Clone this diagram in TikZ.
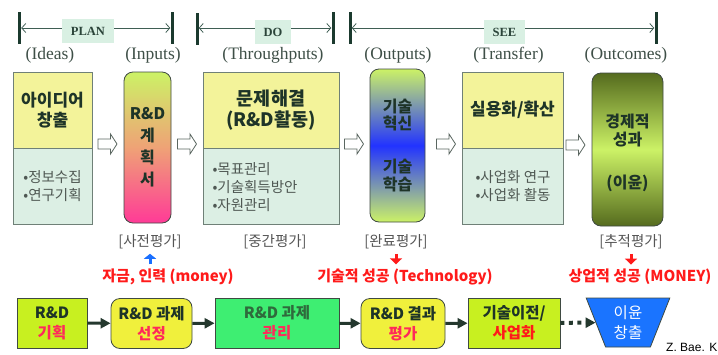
\documentclass[tikz,border=0pt]{standalone}
\usepackage{fontspec}
\setmainfont{Noto Sans CJK KR}
\newfontfamily\serifface{Liberation Serif}
\newfontfamily\latinsans{Liberation Sans}
\usetikzlibrary{arrows.meta,shapes.geometric}

\definecolor{bardark}{HTML}{1B3A2E}
\definecolor{spanline}{HTML}{3F5E54}
\definecolor{phasefill}{HTML}{D9F0E3}
\definecolor{phasetext}{HTML}{2B4439}
\definecolor{stagetext}{HTML}{3E4F47}
\definecolor{paleyellow}{HTML}{F3F39A}
\definecolor{palegreen}{HTML}{DCEFE4}
\definecolor{boxedge}{HTML}{6F8077}
\definecolor{titletext}{HTML}{1E3428}
\definecolor{bullettext}{HTML}{4F5853}
\definecolor{hollowedge}{HTML}{5A6660}
\definecolor{lime}{HTML}{CCF266}
\definecolor{salmon}{HTML}{EFA276}
\definecolor{hotpink}{HTML}{FF3A97}
\definecolor{vividblue}{HTML}{2233FF}
\definecolor{olive}{HTML}{556B1E}
\definecolor{evalgrey}{HTML}{555555}
\definecolor{alertred}{HTML}{FF1A1A}
\definecolor{upblue}{HTML}{1A6FFF}
\definecolor{flowdark}{HTML}{24382E}
\definecolor{limebox}{HTML}{C8F020}
\definecolor{yellowbox}{HTML}{F0F03C}
\definecolor{greenbox}{HTML}{3EEE72}
\definecolor{trapblue}{HTML}{1A74FF}
\definecolor{pinktext}{HTML}{FF2A5A}
\definecolor{mgmttext}{HTML}{2F6A3C}
\definecolor{rowedge}{HTML}{3F4A42}

\begin{document}
\begin{tikzpicture}[x=1pt,y=-1pt,
  bar/.style={fill=bardark,draw=none,minimum width=3pt,minimum height=32pt,inner sep=0pt},
  span/.style={draw=spanline,line width=0.8pt,{Straight Barb[length=4pt,width=9pt]}-{Straight Barb[length=4pt,width=9pt]}},
  phase/.style={fill=phasefill,text=phasetext,inner sep=0pt,minimum height=24pt,font=\serifface\bfseries\fontsize{12.5}{14}\selectfont},
  stage/.style={text=stagetext,font=\serifface\fontsize{17.5}{19}\selectfont},
  headbox/.style={draw=boxedge,fill=paleyellow,line width=0.8pt,minimum height=76pt,inner sep=0pt,text=titletext,align=center},
  notebox/.style={draw=boxedge,fill=palegreen,line width=0.8pt,minimum height=76pt,inner sep=0pt},
  bullets/.style={text=bullettext,align=left,font=\fontsize{14.5}{18}\selectfont},
  pill/.style={draw=rowedge,line width=0.8pt,rounded corners=9pt,inner sep=0pt},
  hollowarrow/.pic={\draw[draw=hollowedge,fill=white,line width=0.8pt,line join=miter]
    (-9.5,-5) -- (3,-5) -- (3,-10) -- (9.5,0) -- (3,10) -- (3,5) -- (-9.5,5) -- cycle;},
  evallabel/.style={text=evalgrey,font=\fontsize{14.5}{16}\selectfont},
  alert/.style={text=alertred,font=\bfseries\fontsize{15}{17}\selectfont},
  rowbox/.style={draw=rowedge,line width=0.8pt,minimum height=50pt,inner sep=0pt,align=center,
    text=titletext,font=\bfseries\fontsize{15.5}{20}\selectfont},
  flow/.style={draw=flowdark,line width=3pt,-{Triangle[length=10pt,width=10pt]}},
]
\useasboundingbox (0,0) rectangle (718,354);

% ---- phase brackets: PLAN / DO / SEE
\node[bar] (plL) at (19.5,27.5) {};
\node[bar] (plR) at (172,27.5) {};
\node[bar] (doL) at (197,29) {};
\node[bar] (doR) at (333,27.5) {};
\node[bar] (seL) at (350,27.5) {};
\node[bar] (seR) at (656,27.5) {};
\draw[span] (plL.east |- 0,28) -- (plR.west |- 0,28);
\draw[span] (doL.east |- 0,28) -- (doR.west |- 0,28);
\draw[span] (seL.east |- 0,28) -- (seR.west |- 0,28);
\node[phase,minimum width=52pt] (plan) at (88,31) {PLAN};
\node[phase,minimum width=36pt] (do) at (273,32) {DO};
\node[phase,minimum width=41pt] (see) at (504.5,32) {SEE};

% ---- stage names
\node[stage] (ideas) at (50,55) {(Ideas)};
\node[stage] (inputs) at (153,55) {(Inputs)};
\node[stage] (through) at (273,55) {(Throughputs)};
\node[stage] (outputs) at (398,55) {(Outputs)};
\node[stage] (transfer) at (508.5,55) {(Transfer)};
\node[stage] (outcomes) at (626,55) {(Outcomes)};

% ---- idea generation
\node[headbox,minimum width=79pt,font=\bfseries\fontsize{17}{20}\selectfont] (idea) at (52.5,110) {아이디어\\창출};
\node[notebox,minimum width=79pt] (ideanote) at (52.5,186) {};
\node[bullets] at (52.5,186) {•정보수집\\•연구기획};

% ---- R&D plan
\node[pill,minimum width=47pt,minimum height=151pt,top color=lime,bottom color=hotpink,middle color=salmon,
  text=titletext,align=center,font=\bfseries\fontsize{16}{22}\selectfont] (plan box) at (147.5,147.5) {R\&D\\계\\획\\서};

% ---- problem solving
\node[headbox,minimum width=136pt,font=\bfseries\fontsize{18.5}{21}\selectfont] (solve) at (271,110) {문제해결\\(R\&D활동)};
\node[notebox,minimum width=136pt] (solvenote) at (271,186) {};
\node[bullets,anchor=west] at (209,187) {•목표관리\\•기술획득방안\\•자원관리};

% ---- technology outputs
\node[pill,minimum width=55pt,minimum height=153pt,top color=lime,bottom color=lime,middle color=vividblue] (tech) at (397.5,145.5) {};
\node[text=titletext,align=center,font=\bfseries\fontsize{16}{17}\selectfont] at (397.5,115) {기술\\혁신};
\node[text=titletext,align=center,font=\bfseries\fontsize{16}{18}\selectfont] at (397.5,176) {기술\\학습};

% ---- transfer
\node[headbox,minimum width=101pt,font=\bfseries\fontsize{17}{20}\selectfont] (spread) at (512.5,110) {실용화/확산};
\node[notebox,minimum width=101pt] (spreadnote) at (512.5,186) {};
\node[bullets] at (513,186) {•사업화 연구\\•사업화 활동};

% ---- economic outcome
\node[pill,minimum width=71pt,minimum height=153pt,top color=olive,bottom color=olive,middle color=lime] (econ) at (627.5,149.5) {};
\node[text=titletext,align=center,font=\bfseries\fontsize{16}{18}\selectfont] at (627.5,131) {경제적\\성과};
\node[text=titletext,font=\bfseries\fontsize{16}{18}\selectfont] at (627.5,183) {(이윤)};

% ---- hollow block arrows between stages
\pic at (107.5,144) {hollowarrow};
\pic at (187,144) {hollowarrow};
\pic at (354,144) {hollowarrow};
\pic at (446,144) {hollowarrow};
\pic at (575.5,145) {hollowarrow};

% ---- evaluation points
\node[evallabel] (pre) at (150,242) {[사전평가]};
\node[evallabel] (mid) at (275,242) {[중간평가]};
\node[evallabel] (fin) at (396,242) {[완료평가]};
\node[evallabel] (post) at (631,242) {[추적평가]};

\node[alert] (money) at (168,277) {자금, 인력 (money)};
\node[alert] (techok) at (405,277) {기술적 성공 (Technology)};
\node[alert] (bizok) at (640,277) {상업적 성공 (MONEY)};

\draw[draw=upblue,line width=3pt,-{Triangle[length=5pt,width=12pt]},shorten <=1pt,shorten >=1pt]
  (pre.south |- money.north) -- (pre.south);
\draw[draw=alertred,line width=3pt,-{Triangle[length=6pt,width=12pt]},shorten <=1pt,shorten >=1pt]
  (fin.south) -- (fin.south |- techok.north);
\draw[draw=alertred,line width=3pt,-{Triangle[length=6pt,width=12pt]},shorten <=1pt,shorten >=1pt]
  (post.south) -- (post.south |- bizok.north);

% ---- process row
\node[rowbox,fill=limebox,minimum width=70pt] (b1) at (52,323) {R\&D\\\textcolor{pinktext}{기획}};
\node[rowbox,fill=yellowbox,rounded corners=9pt,minimum width=81pt] (b2) at (151.5,323.5) {R\&D 과제\\\textcolor{pinktext}{선정}};
\node[rowbox,fill=greenbox,minimum width=124pt,text=mgmttext] (b3) at (277,323) {R\&D 과제\\\textcolor{pinktext}{관리}};
\node[rowbox,fill=yellowbox,rounded corners=9pt,minimum width=84pt] (b4) at (403,323.5) {R\&D 결과\\\textcolor{pinktext}{평가}};
\node[rowbox,fill=limebox,minimum width=92pt] (b5) at (514,323) {기술이전/\\\textcolor{alertred}{사업화}};
\node[trapezium,trapezium stretches=true,shape border rotate=180,trapezium angle=70,
  draw=rowedge,line width=0.8pt,fill=trapblue,minimum width=84pt,minimum height=49pt,inner sep=0pt,
  text=white,align=center,font=\fontsize{15.5}{20}\selectfont] (b6) at (628,322.5) {이윤\\창출};

\draw[flow] (b1) -- (b2);
\draw[flow] (b2) -- (b3);
\draw[flow] (b3) -- (b4);
\draw[flow] (b4) -- (b5);
\draw[flow,line width=4pt,dash pattern=on 4pt off 4.5pt] (b5) -- (b6);

\node[anchor=west,inner sep=0pt,text=black,font=\latinsans\fontsize{12}{14}\selectfont] (credit) at (666,347) {Z. Bae. K};
\end{tikzpicture}
\end{document}
